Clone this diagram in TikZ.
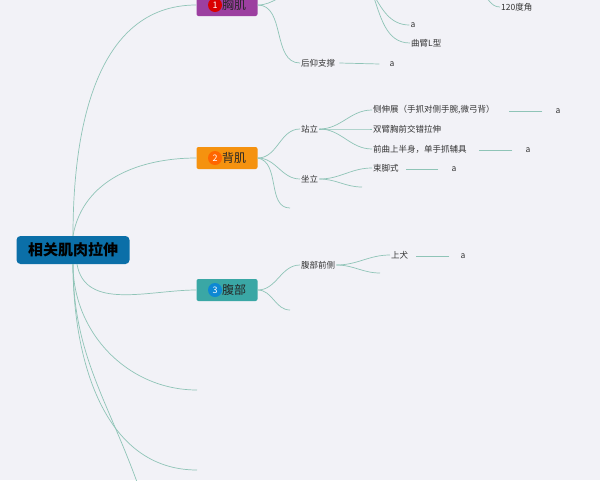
\documentclass[tikz,border=0pt]{standalone}
\usepackage{fontspec}
\setmainfont{Noto Sans CJK SC}
\usetikzlibrary{positioning}
\definecolor{bgcol}{HTML}{F2F2F7}
\definecolor{linkcol}{HTML}{8FC4B7}
\definecolor{rootcol}{HTML}{0B6FA8}
\definecolor{chestcol}{HTML}{9C3FA0}
\definecolor{backcol}{HTML}{F5920F}
\definecolor{bellycol}{HTML}{3AA7A5}
\tikzset{
  link/.style={draw=linkcol, line width=0.7pt},
  topic/.style={rounded corners=2pt, minimum width=61pt, minimum height=22pt, font=\fontsize{12}{12}\selectfont, text=black!85},
  leaf/.style={font=\fontsize{8.5}{9}\selectfont, text=black!80, inner sep=1pt},
  num/.style={circle, inner sep=0pt, minimum size=14pt, font=\fontsize{9}{9}\selectfont, text=white}
}
\begin{document}
\begin{tikzpicture}[x=1pt, y=-1pt]
  \fill[bgcol] (0,0) rectangle (600,480);
  \useasboundingbox (0,0) rectangle (600,480);

  \node[rounded corners=4pt, fill=rootcol, minimum width=113pt, minimum height=28pt,
        font=\fontsize{15}{15}\selectfont\bfseries] (root) at (73,250) {相关肌肉拉伸};

  \node[topic, fill=chestcol] (chest) at (227,5) {\hspace{14pt}胸肌};
  \node[num, fill=red!85!black] at (215,5) {1};
  \node[topic, fill=backcol] (back) at (227,158) {\hspace{14pt}背肌};
  \node[num, fill=orange!80!red] at (215,158) {2};
  \node[topic, fill=bellycol] (belly) at (227,290) {\hspace{14pt}腹部};
  \node[num, fill=cyan!70!blue] at (215,290) {3};

  \coordinate (e1) at (197,390);
  \coordinate (e2) at (197,470);
  \coordinate (e3) at (137,482);

  \draw[link] (root.north) to[out=90, in=180] (chest.west);
  \draw[link] (root.north) to[out=80, in=180] (back.west);
  \draw[link] ([xshift=4pt]root.south) to[out=-80, in=180] (belly.west);
  \draw[link] (root.south) to[out=-90, in=180] (e1);
  \draw[link] (root.south) to[out=-90, in=180] (e2);
  \draw[link] (root.south) to[out=-90, in=110] (e3);

  % chest
  \coordinate (c0) at (298,-8);
  \coordinate (c1) at (372,-8);
  \coordinate (c2) at (480,-8);
  \node[leaf] (c1a) at (413,25) {a};
  \node[leaf, anchor=west] (c1b) at (410,43) {曲臂L型};
  \node[leaf, anchor=west] (c2a) at (500,7) {120度角};
  \node[leaf, anchor=west] (lean) at (300,63) {后仰支撑};
  \node[leaf] (leana) at (392,64) {a};
  \draw[link] (chest.east) to[out=0, in=180] (c0);
  \draw[link] (chest.east) to[out=0, in=180] (lean.west);
  \draw[link] (c1) to[out=-60, in=180] (c1a.west);
  \draw[link] (c1) to[out=-70, in=180] (c1b.west);
  \draw[link] (c2) to[out=-30, in=180] (c2a.west);
  \draw[link] ([xshift=3pt]lean.east) -- ([xshift=-9pt]leana.west);

  % back
  \node[leaf, anchor=west] (stand) at (300,129) {站立};
  \node[leaf, anchor=west] (sit) at (300,179) {坐立};
  \coordinate (b3) at (290,208);
  \draw[link] (back.east) to[out=0, in=180] (stand.west);
  \draw[link] (back.east) to[out=0, in=180] (sit.west);
  \draw[link] (back.east) to[out=-10, in=180] (b3);

  \node[leaf, anchor=west] (s1) at (372,110) {侧伸展（手抓对侧手腕,微弓背）};
  \node[leaf, anchor=west] (s2) at (372,129) {双臂胸前交错拉伸};
  \node[leaf, anchor=west] (s3) at (372,149) {前曲上半身，单手抓辅具};
  \node[leaf] (s1a) at (558,111) {a};
  \node[leaf] (s3a) at (528,150) {a};
  \draw[link] (stand.east) to[out=0, in=180] (s1.west);
  \draw[link] (stand.east) to[out=0, in=180] (s2.west);
  \draw[link] (stand.east) to[out=0, in=180] (s3.west);
  \draw[link] ([xshift=-12pt]s1a.west) -- ([xshift=-45pt]s1a.west);
  \draw[link] ([xshift=-12pt]s3a.west) -- ([xshift=-45pt]s3a.west);

  \node[leaf, anchor=west] (k1) at (372,168) {束脚式};
  \node[leaf] (k1a) at (454,169) {a};
  \coordinate (k2) at (362,187);
  \draw[link] (sit.east) to[out=0, in=180] (k1.west);
  \draw[link] (sit.east) to[out=0, in=180] (k2);
  \draw[link] ([xshift=-12pt]k1a.west) -- ([xshift=-44pt]k1a.west);

  % belly
  \node[leaf, anchor=west] (front) at (300,265) {腹部前侧};
  \coordinate (a2) at (290,310);
  \draw[link] (belly.east) to[out=0, in=180] (front.west);
  \draw[link] (belly.east) to[out=0, in=180] (a2);

  \node[leaf, anchor=west] (dog) at (390,255) {上犬};
  \node[leaf] (doga) at (463,256) {a};
  \coordinate (f2) at (380,273);
  \draw[link] (front.east) to[out=0, in=180] (dog.west);
  \draw[link] (front.east) to[out=0, in=180] (f2);
  \draw[link] ([xshift=-10pt]doga.west) -- ([xshift=-43pt]doga.west);
\end{tikzpicture}
\end{document}
